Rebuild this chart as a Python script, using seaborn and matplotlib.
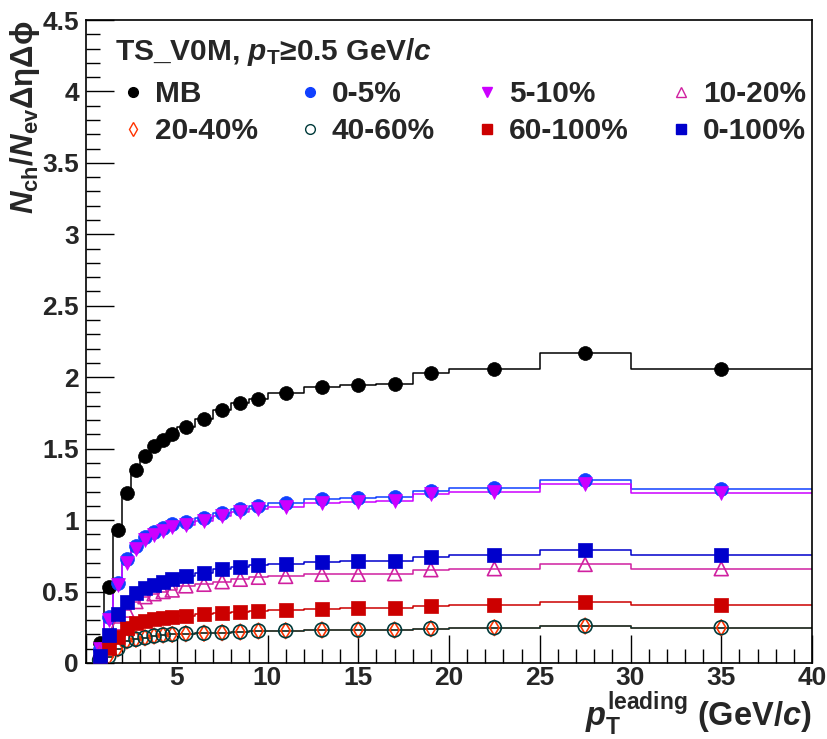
import numpy as np
import pandas as pd
import seaborn as sns
import matplotlib
matplotlib.use("Agg")
import matplotlib.pyplot as plt
from matplotlib.lines import Line2D
from matplotlib.ticker import MultipleLocator, FuncFormatter

# ---------------- data ----------------
bin_edges = [0.5, 1, 1.5, 2, 2.5, 3, 3.5, 4, 4.5, 5, 6, 7, 8, 9, 10, 12, 14, 16, 18, 20, 25, 30, 40]
bin_centers = [0.75, 1.25, 1.75, 2.25, 2.75, 3.25, 3.75, 4.25, 4.75, 5.5, 6.5, 7.5, 8.5, 9.5,
               11, 13, 15, 17, 19, 22.5, 27.5, 35]

mb = [0.14, 0.53, 0.93, 1.19, 1.35, 1.45, 1.52, 1.56, 1.60, 1.65, 1.71, 1.77, 1.82, 1.85,
      1.89, 1.93, 1.945, 1.95, 2.03, 2.06, 2.17, 2.06]
c0_5 = [0.10, 0.32, 0.56, 0.73, 0.82, 0.88, 0.915, 0.945, 0.97, 0.99, 1.015, 1.05, 1.08, 1.10,
        1.12, 1.146, 1.153, 1.164, 1.204, 1.222, 1.281, 1.218]
c5_10 = [0.10, 0.30, 0.545, 0.70, 0.80, 0.86, 0.895, 0.925, 0.95, 0.965, 0.996, 1.029, 1.059, 1.076,
         1.094, 1.122, 1.129, 1.136, 1.183, 1.197, 1.253, 1.192]
c10_20 = [0.07, 0.18, 0.28, 0.37, 0.43, 0.464, 0.485, 0.50, 0.511, 0.54, 0.551, 0.569, 0.586, 0.60,
          0.606, 0.621, 0.621, 0.625, 0.653, 0.66, 0.69, 0.66]
c20_40 = [0.02, 0.045, 0.10, 0.155, 0.166, 0.177, 0.189, 0.196, 0.20, 0.205, 0.208, 0.212, 0.217, 0.224,
          0.226, 0.231, 0.231, 0.231, 0.24, 0.247, 0.259, 0.247]
c40_60 = [0.02, 0.045, 0.10, 0.155, 0.166, 0.177, 0.189, 0.196, 0.20, 0.205, 0.208, 0.212, 0.217, 0.224,
          0.226, 0.231, 0.231, 0.231, 0.24, 0.247, 0.259, 0.247]
c60_100 = [0.01, 0.105, 0.184, 0.243, 0.278, 0.296, 0.306, 0.317, 0.324, 0.329, 0.343, 0.352, 0.359, 0.366,
           0.371, 0.38, 0.383, 0.385, 0.399, 0.406, 0.425, 0.404]
c0_100 = [0.05, 0.196, 0.345, 0.43, 0.488, 0.523, 0.546, 0.569, 0.586, 0.607, 0.628, 0.656, 0.67, 0.686,
          0.693, 0.709, 0.711, 0.716, 0.744, 0.754, 0.791, 0.754]

series_labels = ["MB", "0-5%", "5-10%", "10-20%", "20-40%", "40-60%", "60-100%", "0-100%"]
series_values = [mb, c0_5, c5_10, c10_20, c20_40, c40_60, c60_100, c0_100]

# ---------------- styles ----------------
colors = ["#000000", "#1040ff", "#cc00ff", "#d020a0", "#ff3300", "#003a3a", "#cc0000", "#0000cc"]
markers = ["o", "o", "v", "^", "d", "o", "s", "s"]
filled = [True, True, True, False, False, False, True, True]
msizes = [10, 10, 10, 10, 8, 10, 9.5, 9.5]

sns.set_theme(style="ticks")
plt.rcParams["font.family"] = ["Liberation Sans", "DejaVu Sans"]
plt.rcParams["font.weight"] = "bold"
plt.rcParams["mathtext.fontset"] = "custom"
plt.rcParams["mathtext.rm"] = "Liberation Sans:bold"
plt.rcParams["mathtext.bf"] = "Liberation Sans:bold"
plt.rcParams["mathtext.it"] = "Liberation Sans:bold:italic"
plt.rcParams["mathtext.sf"] = "Liberation Sans"

fig = plt.figure(figsize=(8.28, 7.39), dpi=100)
ax = fig.add_axes([86 / 828, 1 - 663 / 739, 726 / 828, 643 / 739])

for lab, vals, col, mk, fl, ms in zip(series_labels, series_values, colors, markers, filled, msizes):
    df = pd.DataFrame({"x": bin_centers, "y": vals})
    sns.histplot(data=df, x="x", weights="y", bins=bin_edges, element="step", fill=False,
                 color=col, linewidth=1.1, ax=ax)
    if fl:
        sns.scatterplot(data=df, x="x", y="y", marker=mk, s=ms ** 2, color=col,
                        edgecolor=col, linewidth=0.5, ax=ax, zorder=3)
    else:
        sns.scatterplot(data=df, x="x", y="y", marker=mk, s=ms ** 2, facecolor="none",
                        edgecolor=col, linewidth=1.2, ax=ax, zorder=3)

ax.set_xlim(0, 40)
ax.set_ylim(0, 4.5)
ax.xaxis.set_major_locator(MultipleLocator(5))
ax.xaxis.set_minor_locator(MultipleLocator(1))
ax.yaxis.set_major_locator(MultipleLocator(0.5))
ax.yaxis.set_minor_locator(MultipleLocator(0.1))
ax.xaxis.set_major_formatter(FuncFormatter(lambda v, p: "" if abs(v) < 1e-9 else "%g" % v))
ax.yaxis.set_major_formatter(FuncFormatter(lambda v, p: "%g" % v))
ax.tick_params(which="both", direction="in", top=False, right=False, width=1.0, color="black")
ax.tick_params(which="major", length=20, labelsize=19, pad=5)
ax.tick_params(axis="x", which="major", pad=2)
ax.tick_params(which="minor", length=10)
for sp in ax.spines.values():
    sp.set_linewidth(1.2)
    sp.set_color("black")
    sp.set_visible(True)

ax.set_xlabel(r"$\mathit{p}_{\mathrm{T}}^{\mathrm{leading}}$ (GeV/$\mathit{c}$)", fontsize=23.5,
              fontweight="bold", loc="right")
ax.xaxis.set_label_coords(1.0, -0.041)
ax.set_ylabel(r"$\mathit{N}_{\mathrm{ch}}/\mathit{N}_{\mathrm{ev}}\mathsf{\Delta\eta\Delta\phi}$", fontsize=22.5,
              fontweight="bold", loc="top")
ax.yaxis.set_label_coords(-0.061, 1.0)

ax.text(29 / 726, (663 - 52) / 643, r"TS_V0M, $\mathit{p}_{\mathrm{T}}$≥0.5 GeV/$\mathit{c}$",
        transform=ax.transAxes, fontsize=21.5, fontweight="bold", va="center", ha="left")

handles = []
for lab, col, mk, fl in zip(series_labels, colors, markers, filled):
    handles.append(Line2D([], [], linestyle="none", marker=mk, markersize=7,
                          markerfacecolor=col if fl else "none", markeredgecolor=col,
                          markeredgewidth=1.0, label=lab))
order = [0, 4, 1, 5, 2, 6, 3, 7]
leg = ax.legend([handles[i] for i in order], [series_labels[i] for i in order], ncol=4,
                loc="upper left", bbox_to_anchor=((121 - 86) / 726, (663 - 80) / 643),
                frameon=False, fontsize=21.5, handlelength=0.8, handletextpad=0.33,
                columnspacing=1.35, labelspacing=0.3, borderpad=0, borderaxespad=0)
for t in leg.get_texts():
    t.set_fontweight("bold")

fig.savefig("out.png", dpi=100)
